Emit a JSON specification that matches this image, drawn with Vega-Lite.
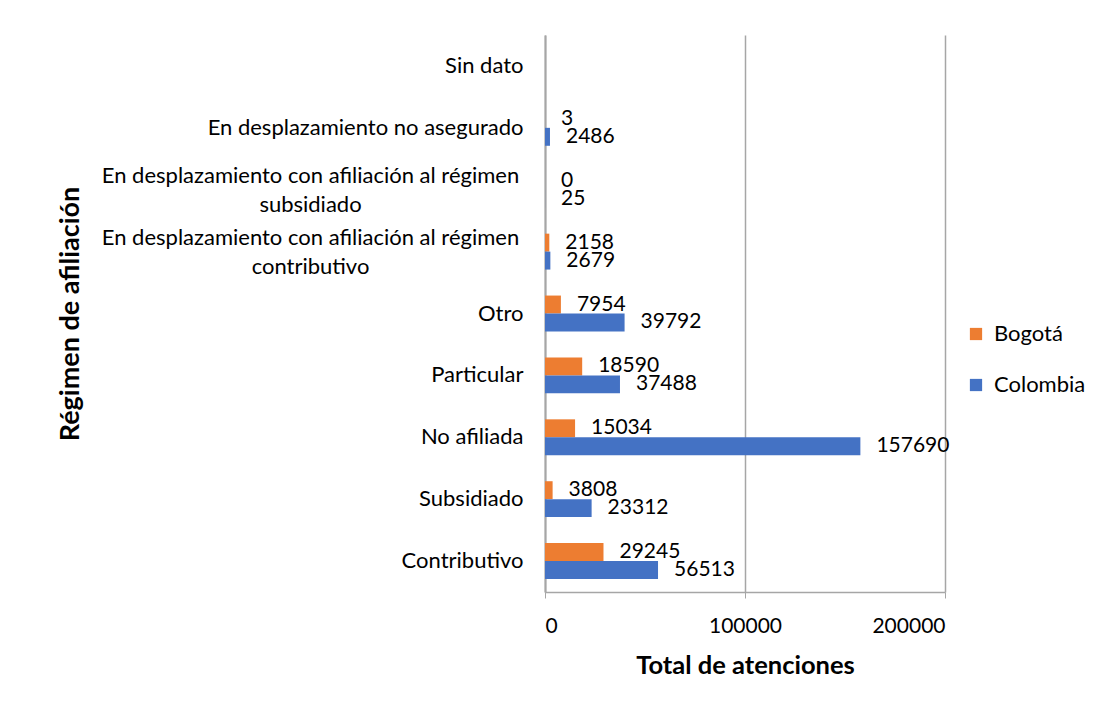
{
  "$schema": "https://vega.github.io/schema/vega-lite/v6.json",
  "autosize": {"type": "none"},
  "width": 400,
  "height": 557,
  "padding": {"left": 545, "top": 35, "right": 160, "bottom": 119},
  "background": "white",
  "config": {
    "font": "Lato",
    "view": {"stroke": null}
  },
  "data": {
    "values": [
      {"cat": "Contributivo", "serie": "Bogotá", "valor": 29245},
      {"cat": "Contributivo", "serie": "Colombia", "valor": 56513},
      {"cat": "Subsidiado", "serie": "Bogotá", "valor": 3808},
      {"cat": "Subsidiado", "serie": "Colombia", "valor": 23312},
      {"cat": "No afiliada", "serie": "Bogotá", "valor": 15034},
      {"cat": "No afiliada", "serie": "Colombia", "valor": 157690},
      {"cat": "Particular", "serie": "Bogotá", "valor": 18590},
      {"cat": "Particular", "serie": "Colombia", "valor": 37488},
      {"cat": "Otro", "serie": "Bogotá", "valor": 7954},
      {"cat": "Otro", "serie": "Colombia", "valor": 39792},
      {"cat": "En desplazamiento con afiliación al régimen contributivo", "serie": "Bogotá", "valor": 2158},
      {"cat": "En desplazamiento con afiliación al régimen contributivo", "serie": "Colombia", "valor": 2679},
      {"cat": "En desplazamiento con afiliación al régimen subsidiado", "serie": "Bogotá", "valor": 0},
      {"cat": "En desplazamiento con afiliación al régimen subsidiado", "serie": "Colombia", "valor": 25},
      {"cat": "En desplazamiento no asegurado", "serie": "Bogotá", "valor": 3},
      {"cat": "En desplazamiento no asegurado", "serie": "Colombia", "valor": 2486}
    ]
  },
  "encoding": {
    "y": {
      "field": "cat",
      "type": "nominal",
      "sort": null,
      "scale": {
        "domain": [
          "Sin dato",
          "En desplazamiento no asegurado",
          "En desplazamiento con afiliación al régimen subsidiado",
          "En desplazamiento con afiliación al régimen contributivo",
          "Otro",
          "Particular",
          "No afiliada",
          "Subsidiado",
          "Contributivo"
        ],
        "paddingInner": 0.42,
        "paddingOuter": 0.21
      },
      "axis": {
        "title": "Régimen de afiliación",
        "titleFontSize": 27,
        "titleFontWeight": "bold",
        "titleColor": "#000000",
        "titleX": -475,
        "titleY": 278.5,
        "titleAngle": 270,
        "titleAlign": "center",
        "titleBaseline": "middle",
        "labelFontSize": 22,
        "labelColor": "#000000",
        "labelLimit": 600,
        "labelLineHeight": 29,
        "labelExpr": "indexof(datum.value, 'régimen ') >= 0 ? ['En desplazamiento con afiliación al régimen', replace(datum.value, 'En desplazamiento con afiliación al régimen ', '')] : datum.value",
        "labelAlign": {"condition": {"test": "indexof(datum.value, 'régimen ') >= 0", "value": "center"}, "value": "right"},
        "labelPadding": {"condition": {"test": "indexof(datum.value, 'régimen ') >= 0", "value": 235}, "value": 22},
        "labelOffset": {"condition": {"test": "indexof(datum.value, 'régimen ') >= 0", "value": -14}, "value": 0},
        "ticks": false,
        "domainColor": "#A6A6A6",
        "domainWidth": 2
      }
    },
    "x": {
      "field": "valor",
      "type": "quantitative",
      "scale": {"domain": [0, 200000], "nice": false},
      "axis": {
        "title": "Total de atenciones",
        "titleFontSize": 25.5,
        "titleFontWeight": "bold",
        "titleColor": "#000000",
        "titlePadding": 17,
        "values": [0, 100000, 200000],
        "format": "d",
        "labelFontSize": 21,
        "labelColor": "#000000",
        "labelPadding": 17,
        "tickSize": 6,
        "tickColor": "#A6A6A6",
        "domainColor": "#A6A6A6",
        "domainWidth": 1.5,
        "grid": true,
        "gridColor": "#A6A6A6",
        "gridWidth": 1.5
      }
    },
    "yOffset": {
      "field": "serie",
      "type": "nominal",
      "sort": ["Bogotá", "Colombia"]
    }
  },
  "layer": [
    {
      "mark": {"type": "bar"},
      "encoding": {
        "color": {
          "field": "serie",
          "type": "nominal",
          "sort": ["Bogotá", "Colombia"],
          "scale": {"domain": ["Bogotá", "Colombia"], "range": ["#ED7D31", "#4472C4"]},
          "legend": {
            "title": null,
            "orient": "none",
            "legendX": 420,
            "legendY": 288,
            "symbolType": "square",
            "symbolSize": 150,
            "symbolStrokeWidth": 0,
            "labelFontSize": 22,
            "labelColor": "#000000",
            "labelOffset": 7,
            "rowPadding": 29
          }
        }
      }
    },
    {
      "mark": {"type": "text", "align": "left", "baseline": "middle", "dx": 16, "fontSize": 21, "color": "#000000"},
      "encoding": {
        "text": {"field": "valor", "type": "quantitative", "format": "d"}
      }
    }
  ]
}
